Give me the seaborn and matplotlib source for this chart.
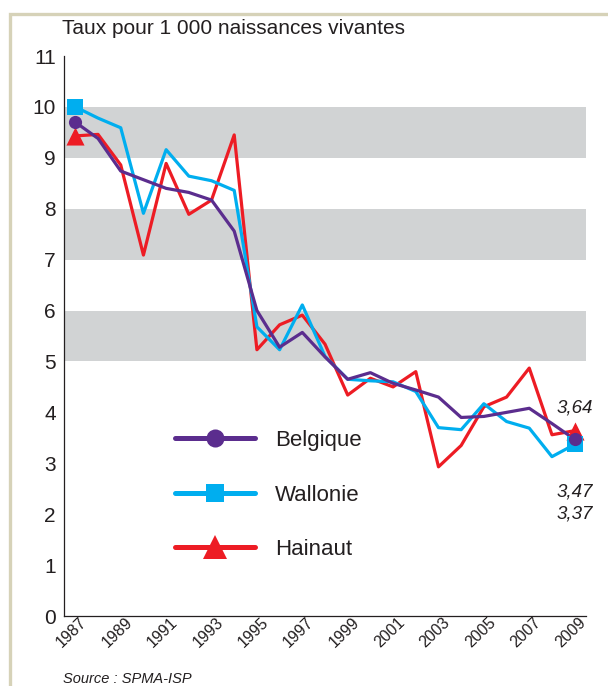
import numpy as np
import pandas as pd
import matplotlib
matplotlib.use("Agg")
import matplotlib.pyplot as plt
import matplotlib.transforms as mtransforms
from matplotlib.lines import Line2D
from matplotlib.patches import Rectangle
import seaborn as sns

# Mortalité infantile, taux pour 1 000 naissances vivantes
years = list(range(1987, 2010))
belgique = [9.70, 9.38, 8.74, 8.57, 8.40, 8.32, 8.17, 7.56, 6.00, 5.28, 5.57, 5.09,
            4.65, 4.78, 4.57, 4.44, 4.30, 3.90, 3.92, 4.00, 4.08, 3.78, 3.47]
wallonie = [10.00, 9.78, 9.59, 7.91, 9.16, 8.64, 8.55, 8.36, 5.68, 5.23, 6.11, 5.10,
            4.65, 4.62, 4.60, 4.41, 3.70, 3.66, 4.17, 3.82, 3.69, 3.13, 3.37]
hainaut = [9.43, 9.46, 8.86, 7.09, 8.89, 7.89, 8.17, 9.45, 5.23, 5.72, 5.91, 5.34,
           4.34, 4.67, 4.50, 4.80, 2.93, 3.35, 4.11, 4.30, 4.87, 3.56, 3.64]
series_names = ["Belgique", "Wallonie", "Hainaut"]
y_ticks = list(range(0, 12))
year_labels = [str(y) for y in range(1987, 2010, 2)]

colors = {"Belgique": "#5b2d8e", "Wallonie": "#00aeef", "Hainaut": "#ed1c24"}
markers = {"Belgique": "o", "Wallonie": "s", "Hainaut": "^"}
marker_sizes = {"Belgique": 90, "Wallonie": 140, "Hainaut": 170}
ink = "#231f20"

df = pd.DataFrame({
    "annee": years * 3,
    "taux": belgique + wallonie + hainaut,
    "zone": ["Belgique"] * len(years) + ["Wallonie"] * len(years) + ["Hainaut"] * len(years),
})

sns.set_style("white")
plt.rcParams["font.family"] = ["Liberation Sans", "DejaVu Sans"]

fig = plt.figure(figsize=(6.08, 6.86), dpi=100)
ax = fig.add_axes([64 / 608, 1 - 616 / 686, 522 / 608, 560 / 686])

# grey horizontal bands
for lo in (5, 7, 9):
    ax.axhspan(lo, lo + 1, color="#d1d3d4", lw=0, zorder=0)

# lines, drawn from bottom to top
draw_order = ["Hainaut", "Wallonie", "Belgique"]
for i, name in enumerate(draw_order):
    sub = df[df["zone"] == name]
    sns.lineplot(data=sub, x="annee", y="taux", ax=ax, color=colors[name],
                 lw=2.3, zorder=2 + i, legend=False)

# end-point markers
for i, name in enumerate(draw_order):
    sub = df[(df["zone"] == name) & (df["annee"].isin([years[0], years[-1]]))]
    sns.scatterplot(data=sub, x="annee", y="taux", ax=ax, color=colors[name],
                    marker=markers[name], s=marker_sizes[name], linewidth=0,
                    zorder=6 + i, legend=False)

# value labels for 2009
last = {"Belgique": belgique[-1], "Wallonie": wallonie[-1], "Hainaut": hainaut[-1]}
label_style = dict(ha="center", va="center", fontsize=13.5, style="italic", color=ink,
                   textcoords="offset points")
ax.annotate(f"{last['Hainaut']:.2f}".replace(".", ","), (years[-1], last["Hainaut"]),
            xytext=(0, 16), **label_style)
ax.annotate(f"{last['Belgique']:.2f}".replace(".", ","), (years[-1], last["Belgique"]),
            xytext=(0, -38), **label_style)
ax.annotate(f"{last['Wallonie']:.2f}".replace(".", ","), (years[-1], last["Wallonie"]),
            xytext=(0, -50), **label_style)

# axes
ax.set_xlim(1986.5, 2009.5)
ax.set_ylim(0, 11)
ax.set_xlabel("")
ax.set_ylabel("")
for s in ("top", "right"):
    ax.spines[s].set_visible(False)
for s in ("left", "bottom"):
    ax.spines[s].set_color(ink)
    ax.spines[s].set_linewidth(0.9)

ax.set_yticks(y_ticks)
ax.set_yticklabels([str(v) for v in y_ticks])
ax.tick_params(axis="y", direction="in", length=9.5, width=0.9, color=ink,
               labelsize=15, labelcolor=ink, pad=6)

ax.set_xticks(list(range(1987, 2010, 2)))
ax.set_xticklabels(year_labels, rotation=44, ha="right", rotation_mode="anchor")
ax.set_xticks(np.arange(1987.5, 2010, 1.0), minor=True)
ax.tick_params(axis="x", which="major", length=0, labelsize=11.5, labelcolor=ink, pad=-1)
ax.tick_params(axis="x", which="minor", direction="in", length=9, width=0.9, color=ink)
shift = mtransforms.ScaledTranslation(4 / 100, 0, fig.dpi_scale_trans)
for lbl in ax.get_xticklabels():
    lbl.set_transform(lbl.get_transform() + shift)

# legend
handles = [
    Line2D([0], [0], color=colors[n], lw=3.6, solid_capstyle="round",
           marker=markers[n], markersize={"Belgique": 13, "Wallonie": 13, "Hainaut": 17}[n],
           markeredgewidth=0)
    for n in series_names
]
ax.legend(handles, series_names, loc="center left", bbox_to_anchor=(0.213, 0.216),
          frameon=False, fontsize=16, handlelength=3.6, handletextpad=0.9,
          labelspacing=1.5, borderpad=0, borderaxespad=0, labelcolor=ink)

# titles
fig.text(62 / 608, 1 - 29 / 686, "Taux pour 1 000 naissances vivantes",
         ha="left", va="center", fontsize=15, color=ink)
fig.text(63 / 608, 1 - 679 / 686, "Source : SPMA-ISP", ha="left", va="center",
         fontsize=10.5, style="italic", color=ink)

# outer frame
fig.patches.append(Rectangle((10 / 608, -0.05), 1.2, 1 - 14 / 686 + 0.05,
                             transform=fig.transFigure, fill=False,
                             edgecolor="#d6d2b8", lw=2.4, zorder=-1))

fig.savefig("out.png", dpi=100, facecolor="white")
